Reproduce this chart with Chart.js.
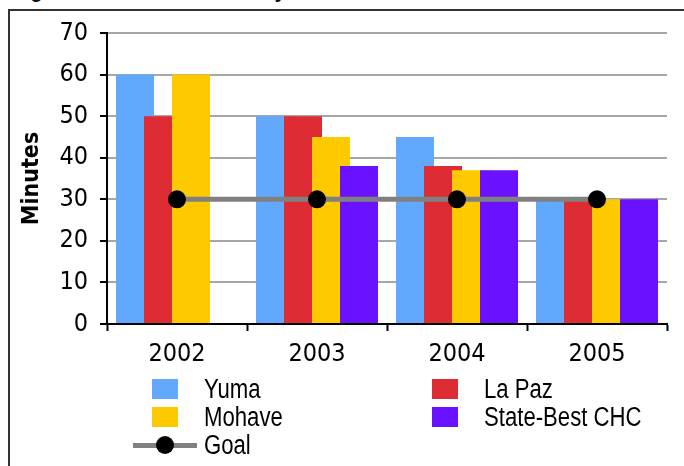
<!DOCTYPE html>
<html>
<head>
<meta charset="utf-8">
<script src="https://cdn.jsdelivr.net/npm/chart.js@4.4.1/dist/chart.umd.min.js"></script>
<style>
  html, body { margin: 0; padding: 0; background: #fff; }
  #wrap { position: relative; width: 684px; height: 466px; overflow: hidden; }
  #frame { position: absolute; left: 8px; top: 9px; width: 680px; height: 460px;
           border-top: 2px solid #333; border-left: 2px solid #333; }
  /* smalle letter: Liberation Sans horizontaal ingedrukt */
  .smal { font-family: 'Liberation Sans', Arial, sans-serif; transform: scaleX(0.82);
          transform-origin: left center; display: inline-block; white-space: nowrap; }
  #titel { position: absolute; left: 10px; top: -26px; font-size: 27px; font-weight: bold;
           line-height: 27px; color: #111; }
  #chart { position: absolute; left: 0; top: 0; }
  #legende { position: absolute; left: 130px; top: 375px;
             display: grid; grid-template-columns: 280px 280px; grid-auto-rows: 28px; }
  .item { position: relative; height: 28px; color: #000; }
  .item .box { position: absolute; left: 22px; top: 4px; width: 26px; height: 20px; }
  .item .lijn { position: absolute; left: 3px; top: 12px; width: 64px; height: 5px; }
  .item .punt { position: absolute; left: 26px; top: 5px; width: 18px; height: 18px;
                border-radius: 50%; background: #000; }
  .item .tekst { position: absolute; left: 74px; top: 0; font-size: 27px; line-height: 28px; }
</style>
</head>
<body>
<div id="wrap">
  <div id="titel" class="smal">Figure A3-3 Office Visit Cycle Time</div>
  <div id="frame"></div>
  <canvas id="chart" width="684" height="466"></canvas>
  <div id="legende"></div>
</div>
<script>
const jaren = ['2002', '2003', '2004', '2005'];

const yuma = [60, 50, 45, 30];
const laPaz = [50, 50, 38, 30];
const mohave = [60, 45, 37, 30];
const stateBest = [null, 38, 37, 30];
const doel = [30, 30, 30, 30];

const yTicks = [0, 10, 20, 30, 40, 50, 60, 70];

const FONT = "'DejaVu Sans Condensed', 'Liberation Sans', sans-serif";

// balken overlappen: rechtse balk ligt bovenop, dus in oplopende volgorde tekenen
const oplopendTekenen = {
  id: 'oplopendTekenen',
  beforeDatasetsDraw(chart) {
    chart.getSortedVisibleDatasetMetas().forEach(meta => chart._drawDataset(meta));
    return false;
  }
};

function balk(label, data, kleur) {
  return {
    type: 'bar',
    label: label,
    data: data,
    backgroundColor: kleur,
    borderWidth: 0,
    barPercentage: 1.357,
    categoryPercentage: 0.8
  };
}

const datasets = [
  balk('Yuma', yuma, '#62A8FD'),
  balk('La Paz', laPaz, '#DD2C33'),
  balk('Mohave', mohave, '#FFC900'),
  balk('State-Best CHC', stateBest, '#6A12FF'),
  {
    type: 'line',
    label: 'Goal',
    data: doel,
    borderColor: '#808080',
    borderWidth: 5,
    pointRadius: 9,
    pointBackgroundColor: '#000',
    pointBorderColor: '#000',
    pointBorderWidth: 0,
    fill: false
  }
];

const grafiek = new Chart(document.getElementById('chart'), {
  type: 'bar',
  data: { labels: jaren, datasets: datasets },
  plugins: [oplopendTekenen],
  options: {
    responsive: false,
    animation: false,
    layout: { padding: { left: 8, right: 17, top: 33, bottom: 89 } },
    plugins: {
      legend: { display: false },
      tooltip: { enabled: false }
    },
    scales: {
      x: {
        grid: {
          offset: true,
          drawOnChartArea: false,
          tickLength: 7,
          tickWidth: 2,
          tickColor: '#000'
        },
        border: { color: '#000', width: 2 },
        ticks: { color: '#000', padding: 8, font: { family: FONT, size: 25 } }
      },
      y: {
        min: 0,
        max: 70,
        afterBuildTicks: s => { s.ticks = yTicks.map(v => ({ value: v })); },
        afterFit: s => { s.width = 99; },
        grid: {
          color: '#A6A6A6',
          lineWidth: 2,
          tickLength: 7,
          tickWidth: 2,
          tickColor: '#000'
        },
        border: { color: '#000', width: 2 },
        ticks: { color: '#000', padding: 12, font: { family: FONT, size: 25 } },
        title: {
          display: true,
          text: 'Minutes',
          color: '#000',
          padding: { top: 10, bottom: 0 },
          font: { family: FONT, size: 23, weight: 'bold' }
        }
      }
    }
  }
});

// legenda in twee kolommen, opgebouwd uit de datasets
const legende = document.getElementById('legende');
grafiek.data.datasets.forEach(ds => {
  const item = document.createElement('div');
  item.className = 'item';
  if (ds.type === 'line') {
    item.innerHTML = '<span class="lijn"></span><span class="punt"></span>';
    item.querySelector('.lijn').style.background = ds.borderColor;
    item.querySelector('.punt').style.background = ds.pointBackgroundColor;
  } else {
    item.innerHTML = '<span class="box"></span>';
    item.querySelector('.box').style.background = ds.backgroundColor;
  }
  const t = document.createElement('span');
  t.className = 'tekst smal';
  t.textContent = ds.label;
  item.appendChild(t);
  legende.appendChild(item);
});
</script>
</body>
</html>
